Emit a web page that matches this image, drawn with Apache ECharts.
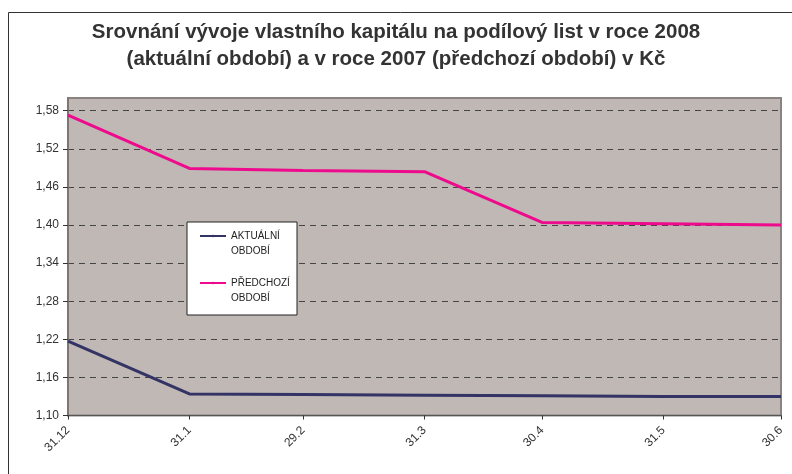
<!DOCTYPE html>
<html>
<head>
<meta charset="utf-8">
<script src="https://cdn.jsdelivr.net/npm/echarts@6/dist/echarts.min.js"></script>
<style>
html,body{margin:0;padding:0;background:#fff;}
#chart{width:792px;height:474px;}
</style>
</head>
<body>
<div id="chart"></div>
<script>
// Data
const dates = ['2007-12-31','2008-01-31','2008-02-29','2008-03-31','2008-04-30','2008-05-31','2008-06-30'];
const dateLabels = ['31.12','31.1','29.2','31.3','30.4','31.5','30.6'];
const aktualni = [1.217, 1.134, 1.133, 1.132, 1.131, 1.130, 1.130];
const predchozi = [1.573, 1.489, 1.486, 1.484, 1.404, 1.402, 1.400];
const yTicks = [1.10, 1.16, 1.22, 1.28, 1.34, 1.40, 1.46, 1.52, 1.58];
const seriesNames = ['\nAKTUÁLNÍ\nOBDOBÍ', '\nPŘEDCHOZÍ\nOBDOBÍ'];
const titleText = 'Srovnání vývoje vlastního kapitálu na podílový list v roce 2008\n(aktuální období) a v roce 2007 (předchozí období) v Kč';

const DAY = 86400000;
const t0 = Date.parse(dates[0] + 'T00:00:00Z');
const days = dates.map(d => Math.round((Date.parse(d + 'T00:00:00Z') - t0) / DAY));
const labelOf = {};
days.forEach((d, i) => labelOf[d] = dateLabels[i]);

const chart = echarts.init(document.getElementById('chart'), null, {renderer: 'canvas'});
const font = 'Liberation Sans, Arial, sans-serif';

chart.setOption({
  backgroundColor: '#ffffff',
  animation: false,
  title: {
    text: titleText,
    left: 'center',
    top: 14,
    textStyle: {fontFamily: font, fontSize: 20.5, fontWeight: 'bold', color: '#333333', lineHeight: 27}
  },
  graphic: [
    {type: 'rect', z: 0, silent: true, shape: {x: 8.5, y: 12.5, width: 800, height: 480},
     style: {fill: 'none', stroke: '#333333', lineWidth: 1}},
    {type: 'rect', z: 5, silent: true, shape: {x: 187, y: 222, width: 110, height: 93},
     style: {fill: '#ffffff', stroke: '#222222', lineWidth: 1}}
  ],
  legend: {
    orient: 'vertical',
    left: 199,
    top: 213.5,
    padding: 0,
    itemGap: 2,
    itemWidth: 26,
    itemHeight: 3,
    z: 6,
    textStyle: {fontFamily: font, fontSize: 10, color: '#222222', lineHeight: 15},
    data: seriesNames
  },
  grid: {
    left: 68, right: 11, top: 98, bottom: 58.5,
    show: true,
    backgroundColor: '#c0b8b4',
    borderColor: '#8c8282',
    borderWidth: 2
  },
  xAxis: {
    type: 'value',
    min: days[0],
    max: days[days.length - 1],
    axisLine: {show: true, lineStyle: {color: '#555555', width: 1}},
    axisTick: {show: true, length: 4, customValues: days, lineStyle: {color: '#333333'}},
    axisLabel: {
      customValues: days,
      rotate: 45,
      margin: 13,
      fontFamily: font, fontSize: 12, color: '#333333',
      formatter: v => labelOf[v] || ''
    },
    splitLine: {show: false}
  },
  yAxis: {
    type: 'value',
    min: 1.10,
    max: 1.60,
    interval: 0.06,
    axisLine: {show: true, lineStyle: {color: '#807470', width: 2}},
    axisTick: {show: true, length: 5, customValues: yTicks, lineStyle: {color: '#333333'}},
    axisLabel: {
      customValues: yTicks,
      margin: 9,
      fontFamily: font, fontSize: 12, color: '#333333',
      formatter: v => v.toFixed(2).replace('.', ',')
    },
    splitLine: {show: true, lineStyle: {color: '#444444', width: 1, type: [6, 5]}}
  },
  series: [
    {
      name: seriesNames[0],
      type: 'line',
      symbol: 'none',
      data: days.map((d, i) => [d, aktualni[i]]),
      lineStyle: {color: '#333366', width: 3},
      itemStyle: {color: '#333366'},
      z: 3
    },
    {
      name: seriesNames[1],
      type: 'line',
      symbol: 'none',
      data: days.map((d, i) => [d, predchozi[i]]),
      lineStyle: {color: '#ee0a8c', width: 3},
      itemStyle: {color: '#ee0a8c'},
      z: 3
    }
  ]
});
</script>
</body>
</html>
